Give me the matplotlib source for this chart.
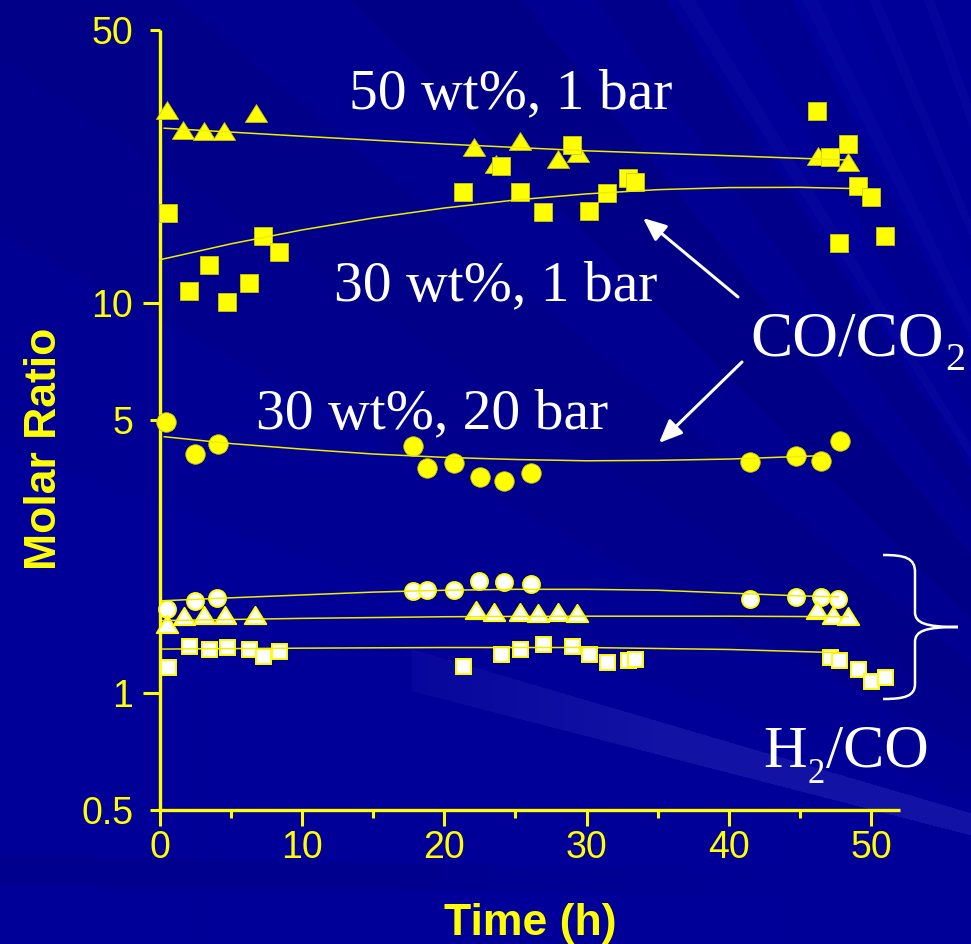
import numpy as np
import matplotlib
matplotlib.use("Agg")
import matplotlib.pyplot as plt
from matplotlib.path import Path
from matplotlib.patches import PathPatch, FancyArrowPatch
from matplotlib.ticker import FixedLocator, FixedFormatter

# ---------------- data ----------------
# CO/CO2, 50 wt%, 1 bar (filled triangles)
t_co_50_1 = [0.47, 1.64, 3.12, 4.52, 6.73, 22.1, 23.6, 25.3, 28.0, 29.4, 46.25, 48.4]
co_50_1 = [31.2, 27.7, 27.5, 27.6, 30.6, 25.1, 22.7, 25.9, 23.3, 24.2, 23.7, 23.0]
fit_t_co_50_1 = [0.3, 10, 20, 30, 40, 48.4]
fit_co_50_1 = [28.0, 26.7, 25.5, 24.5, 23.8, 23.2]

# CO/CO2, 30 wt%, 1 bar (filled squares)
t_co_30_1 = [0.58, 2.04, 3.45, 4.73, 6.26, 7.27, 8.37, 21.3, 23.96, 25.3, 26.96, 29.0,
             30.2, 31.4, 32.9, 33.4, 46.2, 47.1, 47.75, 48.4, 49.1, 50.0, 51.0]
co_30_1 = [16.97, 10.7, 12.5, 10.04, 11.2, 14.8, 13.5, 19.2, 22.4, 19.2, 17.1, 25.4,
           17.2, 19.1, 20.9, 20.4, 31.0, 23.6, 14.2, 25.5, 19.96, 18.6, 14.8]
fit_t_co_30_1 = [0.0, 5, 10, 15, 20, 25, 30, 35, 40, 45, 48.5]
fit_co_30_1 = [12.88, 14.15, 15.36, 16.48, 17.48, 18.33, 19.00, 19.48, 19.72, 19.75, 19.62]

# CO/CO2, 30 wt%, 20 bar (filled circles)
t_co_30_20 = [0.42, 2.48, 4.07, 17.8, 18.8, 20.66, 22.5, 24.2, 26.1, 41.5, 44.7, 46.45, 47.8]
co_30_20 = [4.94, 4.08, 4.33, 4.29, 3.77, 3.87, 3.57, 3.49, 3.65, 3.90, 4.04, 3.93, 4.41]
fit_t_co_30_20 = [0.3, 5, 10, 15, 20, 25, 30, 35, 40, 46.5]
fit_co_30_20 = [4.53, 4.35, 4.21, 4.09, 4.01, 3.96, 3.93, 3.94, 3.97, 4.05]

# H2/CO, 30 wt%, 20 bar (open circles)
t_h2_30_20 = [0.47, 2.46, 4.03, 17.8, 18.75, 20.7, 22.45, 24.2, 26.1, 41.5, 44.7, 46.5, 47.7]
h2_30_20 = [1.637, 1.72, 1.747, 1.824, 1.83, 1.83, 1.927, 1.925, 1.897, 1.737, 1.754, 1.757, 1.737]
fit_t_h2_30_20 = [0.2, 5, 10, 15, 20, 25, 30, 35, 40, 45, 47.7]
fit_h2_30_20 = [1.72, 1.75, 1.78, 1.81, 1.83, 1.84, 1.84, 1.83, 1.80, 1.77, 1.76]

# H2/CO, 50 wt%, 1 bar (open triangles)
t_h2_50_1 = [0.47, 1.71, 3.12, 4.57, 6.68, 22.2, 23.5, 25.3, 26.6, 28.0, 29.3, 46.2, 47.3, 48.4]
h2_50_1 = [1.498, 1.568, 1.58, 1.585, 1.58, 1.63, 1.61, 1.61, 1.60, 1.61, 1.60, 1.63, 1.585, 1.574]
fit_t_h2_50_1 = [0.2, 10, 20, 30, 40, 48.4]
fit_h2_50_1 = [1.53, 1.55, 1.565, 1.57, 1.57, 1.565]

# H2/CO, 30 wt%, 1 bar (open squares)
t_h2_30_1 = [0.54, 2.06, 3.47, 4.69, 6.26, 7.27, 8.37, 21.3, 23.98, 25.3, 26.96, 29.0,
             30.2, 31.4, 32.9, 33.4, 47.15, 47.75, 49.06, 49.98, 50.98]
h2_30_1 = [1.165, 1.318, 1.293, 1.306, 1.293, 1.238, 1.28, 1.167, 1.255, 1.293, 1.332, 1.318,
           1.255, 1.196, 1.214, 1.222, 1.231, 1.214, 1.149, 1.069, 1.098]
fit_t_h2_30_1 = [0.2, 10, 20, 30, 40, 48]
fit_h2_30_1 = [1.293, 1.30, 1.305, 1.305, 1.29, 1.265]

x_ticks = [0, 10, 20, 30, 40, 50]
x_minor = [5, 15, 25, 35, 45]
y_major = [1, 10]
y_major_labels = ['1', '10']
y_minor = [0.5, 5, 50]
y_minor_labels = ['0.5', '5', '50']

# ---------------- figure ----------------
W, H = 971, 944
fig = plt.figure(figsize=(W / 100, H / 100), dpi=100)


def fx(px):
    return px / W


def fy(py):
    return 1 - py / H


# background: dark blue with faint diagonal rays
bg = fig.add_axes([0, 0, 1, 1], zorder=-10)
bg.set_axis_off()
yy, xx = np.mgrid[0:H, 0:W].astype(float)
phi = np.degrees(np.arctan2(900 - yy, 1250 - xx))
dl = np.zeros_like(phi)     # blue delta
dw = np.zeros_like(phi)     # white-ish delta
bands = [(20, 28, -0.02), (28, 34, -0.04), (34, 40, -0.06), (40, 45, -0.03),
         (45, 51, -0.07), (51, 54, -0.02), (54, 57, -0.05), (57, 60, 0.0),
         (60, 63, -0.03), (63, 66, 0.01), (66, 90, 0.0)]
for lo, hi, d in bands:
    dl[(phi >= lo) & (phi < hi)] = d
# fine lighter streaks at the top right
for lo, hi in [(57.5, 58.3), (63.5, 64.3), (67.0, 67.6), (70.0, 70.6)]:
    dw[(phi >= lo) & (phi < hi)] += 0.018
# bright streak at lower right
ytop = 650 + 0.294 * (xx - 416)
ybot = 692 + 0.258 * (xx - 416)
ramp = np.clip((xx - 410) / 250.0, 0, 1) * 0.6 + 0.4 * (xx > 410)
inside = (yy > ytop) & (yy < ybot) & (xx > 410)
dw[inside] += 0.06 * ramp[inside]
# darker band near the bottom left
ydt = 855 + 0.02 * xx
ydb = 885 + 0.01 * xx
insd = (yy > ydt) & (yy < ydb) & (xx < 800)
dl[insd] -= 0.035 * np.clip((800 - xx[insd]) / 400, 0, 1)

img = np.zeros((H, W, 3))
img[..., 0] = np.clip(dw * 1.2, 0, 1)
img[..., 1] = np.clip(dw * 1.2, 0, 1)
img[..., 2] = np.clip(152 / 255 + dl + dw * 0.8, 0, 1)
bg.imshow(img, extent=[0, 1, 0, 1], aspect='auto', origin='upper', interpolation='bilinear')
bg.set_xlim(0, 1)
bg.set_ylim(0, 1)

YEL = '#FFFF00'
ax = fig.add_axes([fx(160), fy(810), (900 - 160) / W, (810 - 30) / H])
ax.set_facecolor('none')
ax.set_yscale('log')
ax.set_xlim(0, 52.04)
ax.set_ylim(0.5, 50)

for s in ['top', 'right']:
    ax.spines[s].set_visible(False)
for s in ['left', 'bottom']:
    ax.spines[s].set_color(YEL)
    ax.spines[s].set_linewidth(2.4)
    ax.spines[s].set_capstyle('butt')

ax.xaxis.set_major_locator(FixedLocator(x_ticks))
ax.xaxis.set_major_formatter(FixedFormatter([str(v) for v in x_ticks]))
ax.xaxis.set_minor_locator(FixedLocator(x_minor))
ax.yaxis.set_major_locator(FixedLocator(y_major))
ax.yaxis.set_major_formatter(FixedFormatter(y_major_labels))
ax.yaxis.set_minor_locator(FixedLocator(y_minor))
ax.yaxis.set_minor_formatter(FixedFormatter(y_minor_labels))

ax.tick_params(axis='x', which='major', direction='out', length=11.5, width=2.2,
               color=YEL, labelcolor=YEL, labelsize=27, pad=3)
ax.tick_params(axis='x', which='minor', direction='out', length=5.8, width=2.2, color=YEL)
ax.tick_params(axis='y', which='major', direction='out', length=12.2, width=2.2,
               color=YEL, labelcolor=YEL, labelsize=27, pad=7)
ax.tick_params(axis='y', which='minor', direction='out', length=7, width=2.2,
               color=YEL, labelcolor=YEL, labelsize=27, pad=12.2)
for lab in ax.get_xticklabels() + ax.get_yticklabels(minor=False) + ax.get_yticklabels(minor=True):
    lab.set_fontfamily('Liberation Sans')

tri = Path([(0, 0.8), (-1, -0.8), (1, -0.8), (0, 0.8)],
           [Path.MOVETO, Path.LINETO, Path.LINETO, Path.CLOSEPOLY])

# filled markers (CO/CO2)
ax.plot(t_co_50_1, co_50_1, ls='none', marker=tri, ms=16, mfc=YEL, mec='#CCCC00',
        mew=0.6, clip_on=False, zorder=3)
ax.plot(t_co_30_1, co_30_1, ls='none', marker='s', ms=13, mfc=YEL, mec='#CCCC00',
        mew=0.6, clip_on=False, zorder=3)
ax.plot(t_co_30_20, co_30_20, ls='none', marker='o', ms=14, mfc=YEL, mec='#CCCC00',
        mew=0.6, clip_on=False, zorder=3)
# open markers (H2/CO)
ax.plot(t_h2_30_20, h2_30_20, ls='none', marker='o', ms=12.2, mfc='white', mec=YEL,
        mew=1.4, clip_on=False, zorder=3)
ax.plot(t_h2_50_1, h2_50_1, ls='none', marker=tri, ms=15.5, mfc='white', mec=YEL,
        mew=1.4, clip_on=False, zorder=3)
ax.plot(t_h2_30_1, h2_30_1, ls='none', marker='s', ms=10.8, mfc='white', mec=YEL,
        mew=1.4, clip_on=False, zorder=3)

# trend lines
LC = '#EEEE00'
for tx, ty in [(fit_t_co_50_1, fit_co_50_1), (fit_t_co_30_1, fit_co_30_1),
               (fit_t_co_30_20, fit_co_30_20), (fit_t_h2_30_20, fit_h2_30_20),
               (fit_t_h2_50_1, fit_h2_50_1), (fit_t_h2_30_1, fit_h2_30_1)]:
    ax.plot(tx, ty, color=LC, lw=1.1, zorder=4, clip_on=False)

# axis titles
fig.text(fx(530), fy(935), 'Time (h)', color=YEL, fontsize=32, fontweight='bold',
         family='Liberation Sans', ha='center', va='baseline')
fig.text(fx(45), fy(449), 'Molar Ratio', color=YEL, fontsize=32, fontweight='bold',
         family='Liberation Sans', ha='center', va='center', rotation=90)

# annotations
serif = 'Liberation Serif'
fig.text(fx(349), fy(108), '50 wt%, 1 bar', color='white', fontsize=41.5, family=serif,
         ha='left', va='baseline')
fig.text(fx(334), fy(300), '30 wt%, 1 bar', color='white', fontsize=41.5, family=serif,
         ha='left', va='baseline')
fig.text(fx(256), fy(428), '30 wt%, 20 bar', color='white', fontsize=41.5, family=serif,
         ha='left', va='baseline')
# CO/CO2 with subscript
fig.text(fx(750), fy(356), 'CO/CO', color='white', fontsize=45.5, family=serif,
         ha='left', va='baseline')
fig.text(fx(945), fy(370), '2', color='white', fontsize=29, family=serif,
         ha='left', va='baseline')
# H2/CO with subscript
fig.text(fx(763), fy(767), 'H', color='white', fontsize=43.5, family=serif,
         ha='left', va='baseline')
fig.text(fx(807.5), fy(783), '2', color='white', fontsize=25, family=serif,
         ha='left', va='baseline')
fig.text(fx(826), fy(767), '/CO', color='white', fontsize=44.5, family=serif,
         ha='left', va='baseline')

# arrows
for (x0, y0), (x1, y1) in [((738, 297), (643, 218)), ((742, 362), (659, 443))]:
    fig.add_artist(FancyArrowPatch(
        (fx(x0), fy(y0)), (fx(x1), fy(y1)), transform=fig.transFigure,
        arrowstyle='-|>,head_length=14,head_width=6', mutation_scale=1,
        color='white', lw=2.2, shrinkA=0, shrinkB=0))

# curly brace
pts = [(883, 555), (905, 555), (915, 558), (915, 572), (915, 612),
       (915, 623), (925, 627), (958, 627),
       (925, 627), (915, 631), (915, 642), (915, 684),
       (915, 696), (905, 699), (883, 699)]
codes = [Path.MOVETO, Path.CURVE4, Path.CURVE4, Path.CURVE4, Path.LINETO,
         Path.CURVE4, Path.CURVE4, Path.CURVE4,
         Path.CURVE4, Path.CURVE4, Path.CURVE4, Path.LINETO,
         Path.CURVE4, Path.CURVE4, Path.CURVE4]
brace = Path([(fx(a), fy(b)) for a, b in pts], codes)
fig.add_artist(PathPatch(brace, transform=fig.transFigure, fc='none', ec='white', lw=1.8))

fig.savefig('out.png', dpi=100)
